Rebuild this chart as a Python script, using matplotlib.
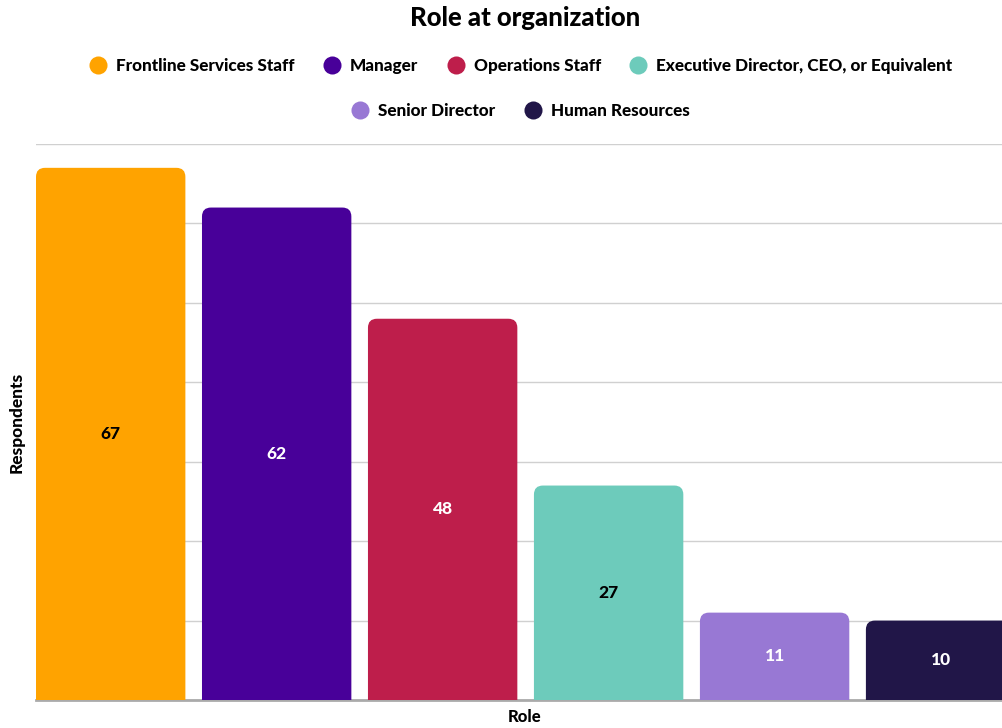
import matplotlib as mpl
mpl.use('Agg')
import matplotlib.pyplot as plt
from matplotlib.patches import FancyBboxPatch
from matplotlib.lines import Line2D

roles = ["Frontline Services Staff", "Manager", "Operations Staff",
         "Executive Director, CEO, or Equivalent", "Senior Director", "Human Resources"]
respondents = [67, 62, 48, 27, 11, 10]
colors = ["#FFA300", "#480099", "#BE1E4B", "#6DCBBB", "#9878D4", "#211648"]
label_colors = ["black", "white", "white", "black", "white", "white"]

plt.rcParams['font.family'] = ['Lato', 'DejaVu Sans']
HEAVY = "black"

W, H = 1002, 728
fig = plt.figure(figsize=(W / 100, H / 100), dpi=100)
ax_l, ax_r, ax_t, ax_b = 36, 1002, 144, 700
ax = fig.add_axes([ax_l / W, 1 - ax_b / H, (ax_r - ax_l) / W, (ax_b - ax_t) / H])

bar_w = 0.9
xmin, xmax = -0.45, 5.37
ymin, ymax = 0, 70
ax.set_xlim(xmin, xmax)
ax.set_ylim(ymin, ymax)

# pixel scale, used to keep the corner radius round
px_x = (ax_r - ax_l) / (xmax - xmin)
px_y = (ax_b - ax_t) / (ymax - ymin)
r_px = 9
rx = r_px / px_x
aspect = px_x / px_y

for i, (v, c, lc) in enumerate(zip(respondents, colors, label_colors)):
    # start below zero so the bottom corners get clipped away
    y0 = -2 * r_px / px_y
    patch = FancyBboxPatch((i - bar_w / 2, y0), bar_w, v - y0,
                           boxstyle=f"round,pad=0,rounding_size={rx}",
                           mutation_aspect=aspect, fc=c, ec="none", zorder=3)
    ax.add_patch(patch)
    ax.text(i, v / 2, str(v), ha="center", va="center", color=lc,
            fontsize=12.5, fontweight=HEAVY, zorder=4)

ax.set_yticks(range(0, 71, 10))
ax.grid(axis="y", color="#d0d0d0", lw=1, zorder=0)
ax.tick_params(left=False, bottom=False, labelleft=False, labelbottom=False)
for side in ["left", "right", "top"]:
    ax.spines[side].set_visible(False)
ax.spines["bottom"].set_color("#aaaaaa")
ax.spines["bottom"].set_linewidth(2)
ax.spines["bottom"].set_zorder(2)

fig.text(525 / W, 1 - 18 / H, "Role at organization", ha="center", va="center",
         fontsize=18.5, fontweight=HEAVY)
fig.text(17 / W, 1 - 422 / H, "Respondents", rotation=90, ha="center", va="center",
         fontsize=12.5, fontweight=HEAVY)
fig.text(525 / W, 1 - 717 / H, "Role", ha="center", va="center",
         fontsize=12, fontweight=HEAVY)

handles = [Line2D([], [], marker="o", ls="none", markersize=13, markerfacecolor=c,
                  markeredgecolor="none") for c in colors]
leg_kw = dict(frameon=False, handletextpad=0.45, columnspacing=1.6,
              prop={"weight": HEAVY, "size": 12.3}, handlelength=1.2, loc="center")
fig.legend(handles[:4], roles[:4], ncol=4, bbox_to_anchor=(520 / W, 1 - 66 / H), **leg_kw)
fig.legend(handles[4:], roles[4:], ncol=2, bbox_to_anchor=(520 / W, 1 - 111 / H), **leg_kw)

fig.savefig("out.png", dpi=100)
plt.close()
